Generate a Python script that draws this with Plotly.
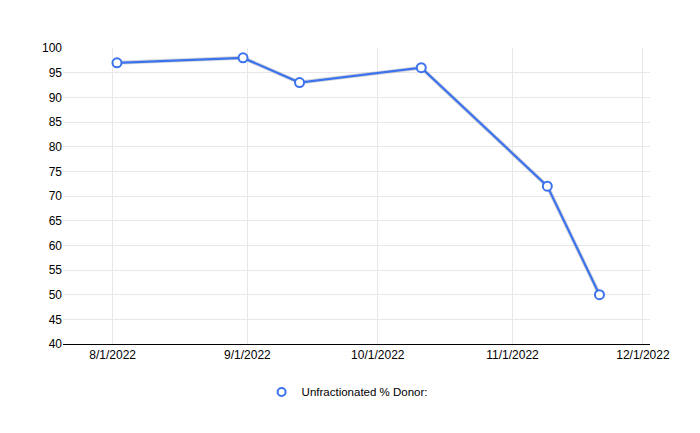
import plotly.graph_objects as go

fechas = ["2022-08-02", "2022-08-31", "2022-09-13", "2022-10-11", "2022-11-09", "2022-11-21"]
donor = [97, 98, 93, 96, 72, 50]
x_ticks = ["2022-08-01", "2022-09-01", "2022-10-01", "2022-11-01", "2022-12-01"]
x_labels = ["8/1/2022", "9/1/2022", "10/1/2022", "11/1/2022", "12/1/2022"]
y_ticks = list(range(40, 101, 5))

BLUE = "#3b72ee"
marker_style = dict(symbol="circle", size=9, color="white", line=dict(color=BLUE, width=2))

fig = go.Figure()
# sombra suave bajo la línea
fig.add_trace(go.Scatter(x=fechas, y=donor, mode="lines", showlegend=False, hoverinfo="skip",
                         line=dict(color="rgba(120,120,120,0.3)", width=4)))
fig.add_trace(go.Scatter(x=fechas, y=donor, mode="lines+markers", showlegend=False,
                         line=dict(color=BLUE, width=2.2), marker=marker_style))
# entrada de leyenda solo con el marcador
fig.add_trace(go.Scatter(x=[None], y=[None], mode="markers", name="Unfractionated % Donor:",
                         marker=dict(marker_style, size=8)))

# la página añade 8px de margen al body
fig.update_layout(
    width=700, height=433,
    margin=dict(l=55, r=58, t=40, b=97),
    paper_bgcolor="white", plot_bgcolor="white",
    font=dict(family="Liberation Sans, Arial, sans-serif", size=12, color="#000000"),
    xaxis=dict(range=["2022-07-20 14:00", "2022-12-02 15:00"], tickvals=x_ticks, ticktext=x_labels,
               showgrid=True, gridcolor="#e8e8e8", gridwidth=1, automargin=False,
               showline=True, linecolor="black", linewidth=1, zeroline=False,
               ticks="", tickfont=dict(size=12)),
    yaxis=dict(range=[40, 100], tickvals=y_ticks, showgrid=True, gridcolor="#e8e8e8",
               showline=False, zeroline=False, ticks="", automargin=False,
               tickfont=dict(size=12)),
    legend=dict(orientation="h", x=0.484, xanchor="center", y=-0.162, yanchor="middle",
                font=dict(size=11.5)),
)

fig.write_html("out.html")
